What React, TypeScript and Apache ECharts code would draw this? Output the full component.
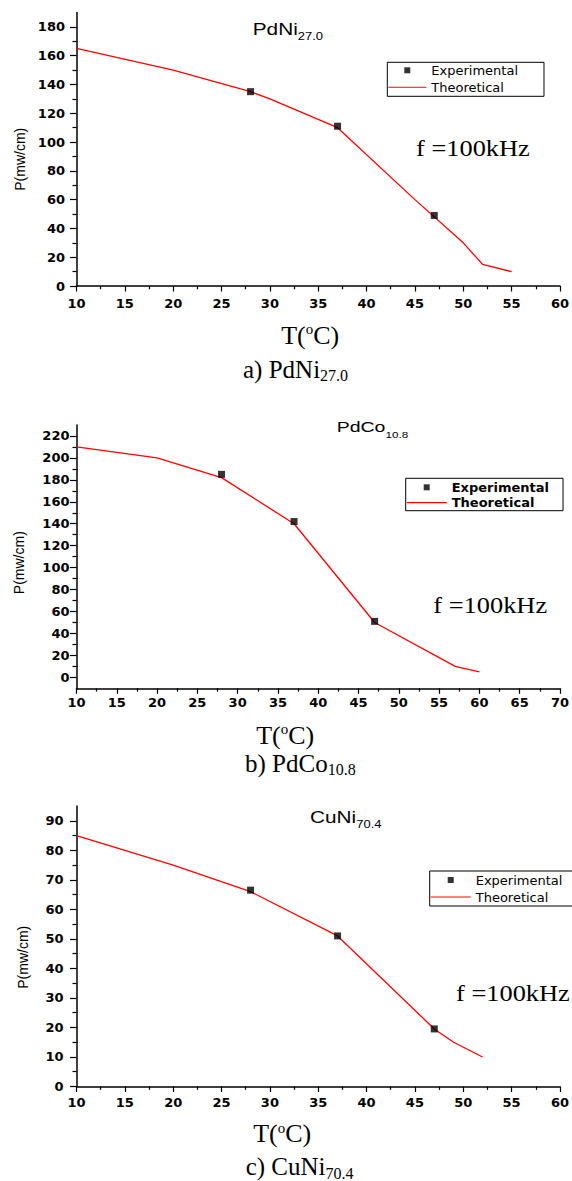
import React, { useEffect, useRef } from "react";
import * as echarts from "echarts";

// ---------- data ----------
const expT = [28, 37, 47];

const pdNiExpP = [135, 111, 49];
const pdNiTheoT = [10, 20, 28, 30, 37, 45, 50, 52, 55];
const pdNiTheoP = [165, 150, 135, 130, 110, 60, 30, 15, 10];

const pdCoExpP = [185, 142, 51];
const pdCoTheoT = [10, 20, 28, 37, 47, 57, 60];
const pdCoTheoP = [210, 200, 182, 140, 50, 10, 5];

const cuNiExpP = [66.5, 51, 19.5];
const cuNiTheoT = [10, 20, 28, 37, 47, 49, 52];
const cuNiTheoP = [85, 75, 66, 51, 19.5, 15, 10];

// tick values
const xTicks60 = [10, 15, 20, 25, 30, 35, 40, 45, 50, 55, 60];
const xMinor60 = [12.5, 17.5, 22.5, 27.5, 32.5, 37.5, 42.5, 47.5, 52.5, 57.5];
const xTicks70 = [10, 15, 20, 25, 30, 35, 40, 45, 50, 55, 60, 65, 70];
const xMinor70 = [12.5, 17.5, 22.5, 27.5, 32.5, 37.5, 42.5, 47.5, 52.5, 57.5, 62.5, 67.5];
const pdNiYTicks = [0, 20, 40, 60, 80, 100, 120, 140, 160, 180];
const pdNiYMinor = [10, 30, 50, 70, 90, 110, 130, 150, 170];
const pdCoYTicks = [0, 20, 40, 60, 80, 100, 120, 140, 160, 180, 200, 220];
const pdCoYMinor = [10, 30, 50, 70, 90, 110, 130, 150, 170, 190, 210];
const cuNiYTicks = [0, 10, 20, 30, 40, 50, 60, 70, 80, 90];
const cuNiYMinor = [5, 15, 25, 35, 45, 55, 65, 75, 85];

const seriesNames = ["Experimental", "Theoretical"];
const xTitle = "{a|T(}{s|o}{a|C)}";
const yTitle = "P(mw/cm)";
const freqText = "f =100kHz";

// ---------- layout ----------
const SERIF = "'Liberation Serif', 'Times New Roman', serif";
const SANS = "'Liberation Sans', Arial, sans-serif";
const DJ = "'DejaVu Sans', sans-serif";
const SQUARE_ICON = "path://M0,0L10,0L10,10L0,10Z";
const LINE_ICON = "path://M0,0L40,0L40,1.2L0,1.2Z";

const panels = [
  {
    grid: { left: 76.5, top: 12.5, width: 487, height: 273.5 },
    x: [10, 60], xMajor: xTicks60, xMinor: xMinor60,
    y: [0, 190], yMajor: pdNiYTicks, yMinor: pdNiYMinor,
    expP: pdNiExpP, theoT: pdNiTheoT, theoP: pdNiTheoP,
    xLabelMargin: 11, yLabelMargin: 11.5,
    xNameGap: 35, xNamePad: 16, yNameGap: 50, yNamePad: 20,
    legend: { left: 387.3, top: 62.3, padding: [1, 26, 2, 1], itemGap: 3, itemWidth: 38, bold: false },
  },
  {
    grid: { left: 76.5, top: 425, width: 488, height: 263.3 },
    x: [10, 70], xMajor: xTicks70, xMinor: xMinor70,
    y: [-10, 230], yMajor: pdCoYTicks, yMinor: pdCoYMinor,
    expP: pdCoExpP, theoT: pdCoTheoT, theoP: pdCoTheoP,
    xLabelMargin: 8, yLabelMargin: 7,
    xNameGap: 33, xNamePad: 66, yNameGap: 51, yNamePad: 12,
    legend: { left: 405.7, top: 478.3, padding: [2, 14, 1, 1], itemGap: 1.4, itemWidth: 40, bold: true },
  },
  {
    grid: { left: 76.5, top: 806, width: 487, height: 280.5 },
    x: [10, 60], xMajor: xTicks60, xMinor: xMinor60,
    y: [0, 95], yMajor: cuNiYTicks, yMinor: cuNiYMinor,
    expP: cuNiExpP, theoT: cuNiTheoT, theoP: cuNiTheoP,
    xLabelMargin: 9, yLabelMargin: 13,
    xNameGap: 33, xNamePad: 72, yNameGap: 47, yNamePad: 22,
    legend: { left: 429.7, top: 871, padding: [2, 24, 2, 1], itemGap: 3, itemWidth: 40, bold: false },
  },
];

const titles = [
  { main: "PdNi", sub: "27.0", x: 252.7, y: 29.2, size: 16, subSize: 10, subPad: 15 },
  { main: "PdCo", sub: "10.8", x: 336.7, y: 427.2, size: 15, subSize: 9, subPad: 15 },
  { main: "CuNi", sub: "70.4", x: 310, y: 817, size: 16, subSize: 10, subPad: 15 },
];

const captions = [
  { main: "a) PdNi", sub: "27.0", x: 243, y: 369 },
  { main: "b) PdCo", sub: "10.8", x: 245, y: 763 },
  { main: "c) CuNi", sub: "70.4", x: 245.7, y: 1166.7 },
];

const freqPos = [
  { x: 416, y: 148.3 },
  { x: 433.3, y: 605 },
  { x: 456, y: 993.3 },
];

function buildOption() {
  const grid: any[] = [];
  const xAxis: any[] = [];
  const yAxis: any[] = [];
  const series: any[] = [];
  const legend: any[] = [];
  const graphic: any[] = [];

  panels.forEach((p, i) => {
    grid.push({ ...p.grid, containLabel: false });
    const tickLine = { color: "#000", width: 1.2 };
    // main x axis
    xAxis.push({
      type: "value", gridIndex: i, position: "bottom", min: p.x[0], max: p.x[1],
      splitLine: { show: false },
      axisLine: { show: true, onZero: false, lineStyle: { color: "#000", width: 1.5 } },
      axisTick: { show: true, inside: false, length: 5.5, customValues: p.xMajor, lineStyle: tickLine },
      axisLabel: {
        customValues: p.xMajor, margin: p.xLabelMargin, color: "#000",
        fontFamily: DJ, fontWeight: "bold", fontSize: 13,
      },
      name: xTitle, nameLocation: "middle", nameGap: p.xNameGap,
      nameTextStyle: {
        padding: [0, p.xNamePad, 0, 0],
        rich: {
          a: { fontFamily: SERIF, fontSize: 26, color: "#000", lineHeight: 28 },
          s: { fontFamily: SERIF, fontSize: 15, color: "#000", padding: [0, 0, 12, 0] },
        },
      },
    });
    // minor x ticks
    xAxis.push({
      type: "value", gridIndex: i, position: "bottom", min: p.x[0], max: p.x[1],
      splitLine: { show: false },
      axisLine: { show: false, onZero: false },
      axisTick: { show: true, inside: false, length: 3.3, customValues: p.xMinor, lineStyle: tickLine },
      axisLabel: { show: false },
    });
    // main y axis
    yAxis.push({
      type: "value", gridIndex: i, position: "left", min: p.y[0], max: p.y[1],
      splitLine: { show: false },
      axisLine: { show: true, onZero: false, lineStyle: { color: "#000", width: 1.5 } },
      axisTick: { show: true, inside: false, length: 6.5, customValues: p.yMajor, lineStyle: tickLine },
      axisLabel: {
        customValues: p.yMajor, margin: p.yLabelMargin, color: "#000",
        fontFamily: DJ, fontWeight: "bold", fontSize: 13,
      },
      name: yTitle, nameLocation: "middle", nameGap: p.yNameGap,
      nameTextStyle: {
        fontFamily: SANS, fontSize: 14, color: "#000",
        padding: [0, p.yNamePad, 0, 0],
      },
    });
    // minor y ticks
    yAxis.push({
      type: "value", gridIndex: i, position: "left", min: p.y[0], max: p.y[1],
      splitLine: { show: false },
      axisLine: { show: false, onZero: false },
      axisTick: { show: true, inside: false, length: 4, customValues: p.yMinor, lineStyle: tickLine },
      axisLabel: { show: false },
    });

    series.push({
      type: "line", name: seriesNames[1], xAxisIndex: 2 * i, yAxisIndex: 2 * i,
      data: p.theoT.map((t, j) => [t, p.theoP[j]]),
      symbol: "none", showSymbol: false,
      lineStyle: { color: "#ff0000", width: 1.3 }, itemStyle: { color: "#ff0000" }, z: 2,
    });
    series.push({
      type: "scatter", name: seriesNames[0], xAxisIndex: 2 * i, yAxisIndex: 2 * i,
      data: expT.map((t, j) => [t, p.expP[j]]),
      symbol: "rect", symbolSize: 7, itemStyle: { color: "#000" }, z: 3,
    });

    const L = p.legend;
    legend.push({
      show: true, orient: "vertical", left: L.left, top: L.top, padding: L.padding,
      itemGap: L.itemGap, itemWidth: L.itemWidth, itemHeight: 6,
      symbolKeepAspect: true,
      borderColor: "#000", borderWidth: 1, borderRadius: 0, backgroundColor: "#fff",
      selectedMode: false,
      data: [{ name: seriesNames[0], icon: SQUARE_ICON }, { name: seriesNames[1], icon: LINE_ICON }],
      textStyle: {
        fontFamily: DJ, fontSize: 13, lineHeight: 14, color: "#000",
        fontWeight: L.bold ? "bold" : "normal",
      },
    });

    const t = titles[i];
    graphic.push({
      type: "text", x: t.x, y: t.y, scaleX: 1.3,
      style: {
        x: 0, y: 0, text: `{m|${t.main}}{s|${t.sub}}`,
        textAlign: "left", textVerticalAlign: "middle",
        rich: {
          m: { fontFamily: SANS, fontSize: t.size, fill: "#000", color: "#000" },
          s: { fontFamily: SANS, fontSize: t.subSize, fill: "#000", color: "#000", padding: [t.subPad, 0, 0, 0] },
        },
      },
    });

    const c = captions[i];
    graphic.push({
      type: "text", x: c.x, y: c.y,
      style: {
        x: 0, y: 0, text: `{m|${c.main}}{s|${c.sub}}`,
        textAlign: "left", textVerticalAlign: "middle",
        rich: {
          m: { fontFamily: SERIF, fontSize: 25, fill: "#000", color: "#000" },
          s: { fontFamily: SERIF, fontSize: 16, fill: "#000", color: "#000", padding: [13, 0, 0, 0] },
        },
      },
    });

    const f = freqPos[i];
    graphic.push({
      type: "text", x: f.x, y: f.y, scaleX: 1.1,
      style: {
        x: 0, y: 0, text: freqText, font: `24px ${SERIF}`, fill: "#000",
        textAlign: "left", textVerticalAlign: "middle",
      },
    });
  });

  return {
    animation: false,
    backgroundColor: "#fff",
    grid, xAxis, yAxis, series, legend, graphic,
  };
}

export default function App() {
  const ref = useRef<HTMLDivElement>(null);
  useEffect(() => {
    document.body.style.margin = "0";
    if (!ref.current) return;
    const chart = echarts.init(ref.current, undefined, { renderer: "svg" });
    chart.setOption(buildOption() as any);
    return () => chart.dispose();
  }, []);
  return <div ref={ref} style={{ width: 572, height: 1181 }} />;
}
